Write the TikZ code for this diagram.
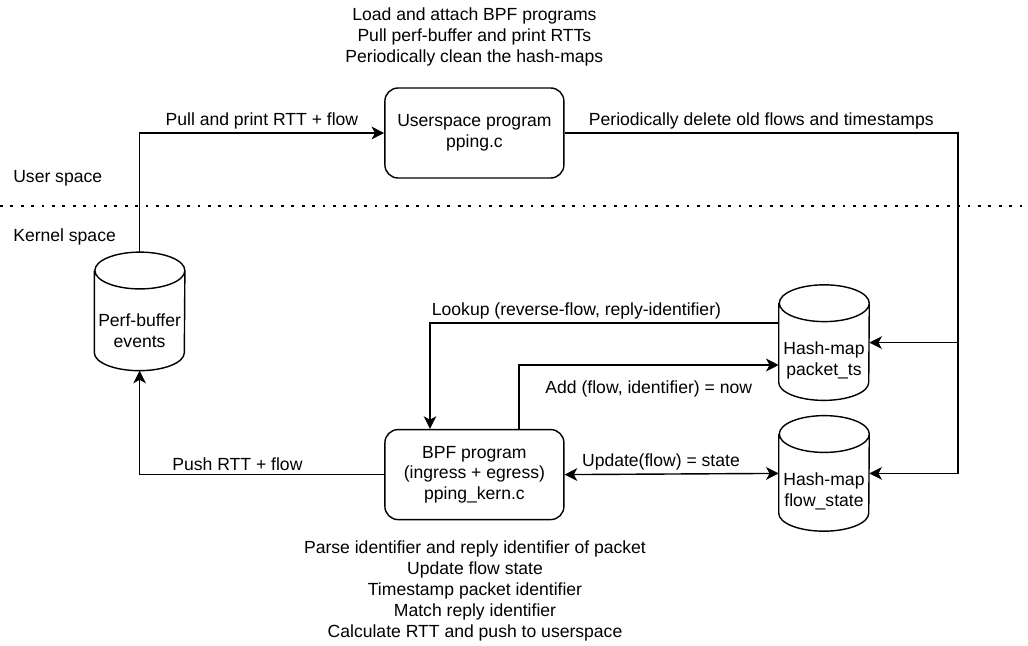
\documentclass[tikz,border=0pt]{standalone}
\usepackage{fontspec}
\setmainfont{Liberation Sans}
\usetikzlibrary{positioning,arrows.meta}
\newcommand{\dfont}{\fontsize{12.5pt}{14.8pt}\selectfont}

\begin{document}
\begin{tikzpicture}[
  every node/.style={font=\dfont},
  >={Stealth[length=9pt,width=9pt,inset=2.5pt]},
  prog/.style={rectangle, draw, line width=1pt, rounded corners=0.33cm, minimum width=4.475cm, minimum height=2.25cm, align=center},
  store/.style={rectangle, inner sep=0pt, minimum width=2.25cm, minimum height=2.875cm},
  storetext/.style={align=center},
  note/.style={align=center},
  lbl/.style={inner sep=2.5pt},
  flowline/.style={line width=1pt}
]
  \useasboundingbox (0,0) rectangle (25.7,16.125);

  % user/kernel boundary
  \node[anchor=west, inner sep=0pt] (uspace) at (0.325,11.675) {User space};
  \node[anchor=west, inner sep=0pt] (kspace) at (0.325,10.2)   {Kernel space};
  \draw[line width=2pt, dash pattern=on 2pt off 5.4pt] (0,10.975) -- (25.7,10.975);

  % programs
  \node[prog] (usr) at (11.86,12.8) {Userspace program\\pping.c};
  \node[prog] (bpf) at (11.86,4.26) {BPF program\\(ingress + egress)\\pping\_kern.c};
  \node[note] (tasks)  at (11.86,15.2)  {Load and attach BPF programs\\Pull perf-buffer and print RTTs\\Periodically clean the hash-maps};
  \node[note] (duties) at (11.875,1.35) {Parse identifier and reply identifier of packet\\Update flow state\\Timestamp packet identifier\\Match reply identifier\\Calculate RTT and push to userspace};

  % buffer and maps
  \node[store, minimum height=2.95cm] (perf) at (3.49,8.34) {};
  \node[store] (pkt)  at (20.6,7.56) {};
  \node[store] (flow) at (20.6,4.29) {};
  \foreach \s in {perf,pkt,flow}
    \draw[line width=1pt] ([yshift=-0.46cm]\s.north west) -- ([yshift=0.45cm]\s.south west)
      arc[start angle=180, end angle=360, x radius=1.125cm, y radius=0.45cm]
      -- ([yshift=-0.46cm]\s.north east)
      arc[start angle=0, end angle=180, x radius=1.125cm, y radius=0.46cm]
      arc[start angle=180, end angle=360, x radius=1.125cm, y radius=0.46cm];
  \node[storetext] (perftxt) at ([yshift=-0.48cm]perf.center) {Perf-buffer\\events};
  \node[storetext] (pkttxt)  at ([yshift=-0.45cm]pkt.center)  {Hash-map\\packet\_ts};
  \node[storetext] (flowtxt) at ([yshift=-0.45cm]flow.center) {Hash-map\\flow\_state};

  \coordinate (rbus) at (23.95,12.8);

  \draw[flowline, ->] (perf.north) |- (usr.west) node[lbl, above, pos=0.75] {Pull and print RTT + flow};
  \draw[flowline, ->] (usr.east) -- node[lbl, above] {Periodically delete old flows and timestamps} (rbus) |- (flow.east);
  \draw[flowline, ->] (rbus |- pkt.east) -- (pkt.east);
  \draw[flowline, ->] ([yshift=0.49cm]pkt.west) -| ([xshift=-1.11cm]bpf.north) node[lbl, above, pos=0.29] {Lookup (reverse-flow, reply-identifier)};
  \draw[flowline, ->] ([xshift=1.11cm]bpf.north) |- ([yshift=-0.56cm]pkt.west) node[lbl, below=8pt, pos=0.75] {Add (flow, identifier) = now};
  \draw[flowline, <->] (bpf.east) -- (flow.west) node[lbl, above, pos=0.45] {Update(flow) = state};
  \draw[flowline, ->] (bpf.west) -| (perf.south) node[lbl, above, pos=0.3] {Push RTT + flow};
\end{tikzpicture}
\end{document}
